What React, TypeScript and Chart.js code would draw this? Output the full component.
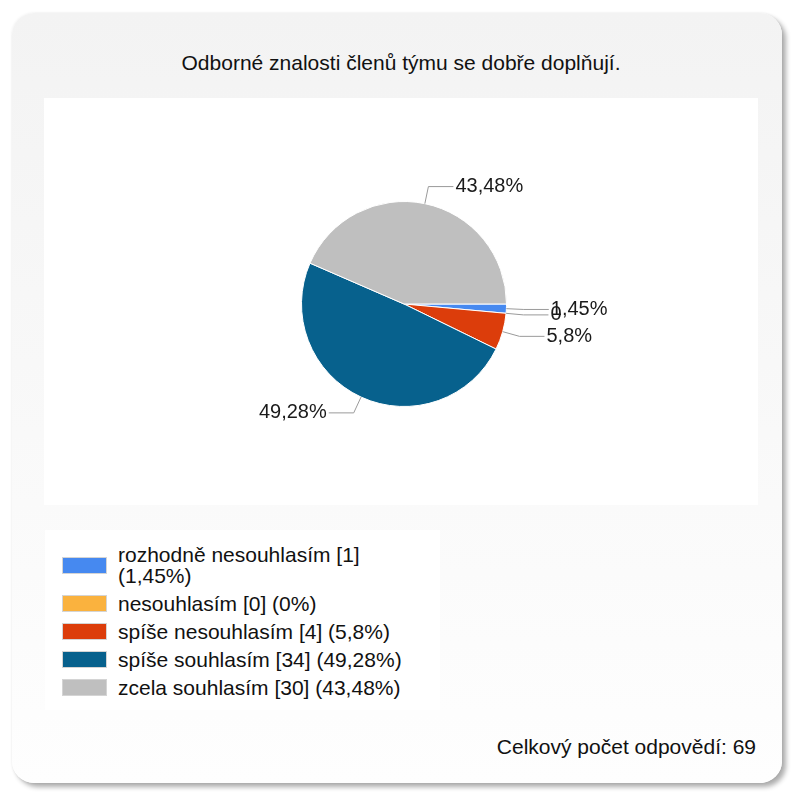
import React, { useEffect, useRef } from "react";
import { Chart, registerables } from "chart.js";

Chart.register(...registerables);

const TITLE = "Odborné znalosti členů týmu se dobře doplňují.";
const FOOTER_LABEL = "Celkový počet odpovědí";
const categories = [
  "rozhodně nesouhlasím",
  "nesouhlasím",
  "spíše nesouhlasím",
  "spíše souhlasím",
  "zcela souhlasím",
];
const counts = [1, 0, 4, 34, 30];
const colors = ["#4689f0", "#fab23e", "#dc3d0b", "#07618d", "#bfbfbf"];

const FONT = '"Liberation Sans", Arial, sans-serif';
const total = counts.reduce((a, b) => a + b, 0);

function pct(v: number): string {
  const p = Math.round((v / total) * 10000) / 100;
  return String(p).replace(".", ",");
}
function sliceLabel(v: number): string {
  return v === 0 ? "0" : pct(v) + "%";
}

const pieLabels = {
  id: "pieLabels",
  afterDatasetsDraw(chart: any) {
    const ctx = chart.ctx;
    const meta = chart.getDatasetMeta(0);
    ctx.save();
    meta.data.forEach((arc: any, i: number) => {
      const { x, y, startAngle, endAngle, outerRadius } = arc.getProps(
        ["x", "y", "startAngle", "endAngle", "outerRadius"],
        true
      );
      const mid = (startAngle + endAngle) / 2;
      const c = Math.cos(mid);
      const s = Math.sin(mid);
      const x0 = x + c * outerRadius;
      const y0 = y + s * outerRadius;
      const x1 = x + c * outerRadius * 1.17;
      const y1 = y + s * outerRadius * 1.17;
      const right = c >= 0;
      const x2 = x1 + (right ? 25 : -25);
      ctx.strokeStyle = "#9a9a9a";
      ctx.lineWidth = 1;
      ctx.beginPath();
      ctx.moveTo(x0, y0);
      ctx.lineTo(x1, y1);
      ctx.lineTo(x2, y1);
      ctx.stroke();
      ctx.fillStyle = "#1a1a1a";
      ctx.font = `20px ${FONT}`;
      ctx.textAlign = right ? "left" : "right";
      ctx.textBaseline = "middle";
      ctx.fillText(sliceLabel(counts[i]), x2 + (right ? 2 : -2), y1);
    });
    ctx.restore();
  },
};

function PieChart() {
  const ref = useRef<HTMLCanvasElement | null>(null);
  useEffect(() => {
    if (!ref.current) return;
    const chart = new Chart(ref.current, {
      type: "pie",
      data: {
        labels: categories,
        datasets: [
          {
            data: counts,
            backgroundColor: colors,
            borderColor: "#ffffff",
            borderWidth: 1,
          },
        ],
      },
      options: {
        animation: false,
        responsive: false,
        maintainAspectRatio: false,
        rotation: 90,
        radius: 102.5,
        layout: { padding: { left: 257, right: 251, top: 103, bottom: 98 } },
        plugins: {
          legend: { display: false },
          tooltip: { enabled: false },
          title: { display: false },
        },
      },
      plugins: [pieLabels],
    } as any);
    return () => chart.destroy();
  }, []);
  return (
    <canvas
      ref={ref}
      width={714}
      height={407}
      style={{ position: "absolute", left: 44, top: 98, width: 714, height: 407, background: "#ffffff" }}
    />
  );
}

export default function App() {
  return (
    <div style={{ position: "absolute", left: 0, top: 0, width: 793, height: 796, background: "#ffffff", overflow: "hidden" }}>
      <div
        style={{
          position: "absolute",
          left: 12,
          top: 13,
          width: 770,
          height: 770,
          borderRadius: 22,
          background: "linear-gradient(#f3f3f3, #fefefe)",
          boxShadow: "4px 4px 5px rgba(0,0,0,0.32), 0 0 3px rgba(0,0,0,0.08)",
        }}
      />
      <div
        style={{
          position: "absolute",
          left: 44,
          top: 51,
          width: 714,
          textAlign: "center",
          font: `21px ${FONT}`,
          lineHeight: "24px",
          color: "#111",
        }}
      >
        {TITLE}
      </div>
      <PieChart />
      <div
        style={{
          position: "absolute",
          left: 45,
          top: 530,
          width: 395,
          height: 180,
          background: "#ffffff",
          boxSizing: "border-box",
          padding: "14px 0 0 17px",
        }}
      >
        {categories.map((c, i) => (
          <div key={c} style={{ display: "flex", alignItems: "center", marginBottom: 7 }}>
            <div
              style={{
                width: 45,
                height: 17,
                background: colors[i],
                border: "1px solid #d4d4d4",
                boxSizing: "border-box",
                flex: "none",
              }}
            />
            <div style={{ marginLeft: 11, width: 300, font: `21px ${FONT}`, lineHeight: "21px", color: "#111" }}>
              {`${c} [${counts[i]}] (${pct(counts[i])}%)`}
            </div>
          </div>
        ))}
      </div>
      <div
        style={{
          position: "absolute",
          right: 37,
          top: 735,
          font: `21px ${FONT}`,
          lineHeight: "24px",
          color: "#111",
          whiteSpace: "nowrap",
        }}
      >
        {`${FOOTER_LABEL}: ${total}`}
      </div>
    </div>
  );
}
